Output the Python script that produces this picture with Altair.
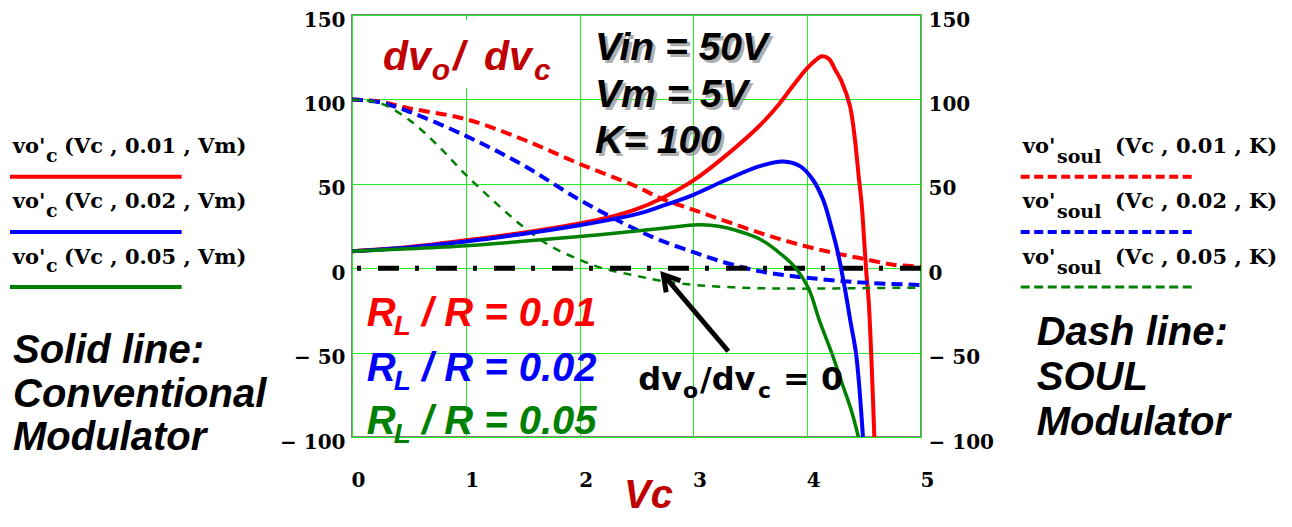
import altair as alt
import pandas as pd

# ---------------- data ----------------
# Conventional modulator, solid lines: vo'_c(Vc, RL/R, Vm)
vc_conv_001 = [0, 0.5, 1, 1.5, 2, 2.25, 2.5, 2.71, 3.0, 3.29, 3.59, 3.75, 3.88, 4.0, 4.07, 4.13, 4.19, 4.25, 4.30, 4.376, 4.42, 4.45, 4.48, 4.50, 4.52, 4.54, 4.565, 4.59]
dv_conv_001 = [10, 12.5, 16.5, 21, 26.5, 30, 35, 41, 52, 67, 85, 97, 108.5, 118.5, 123, 125.5, 124, 117, 111, 96, 76, 56, 37, 17, -3, -19, -55, -100]

vc_conv_002 = [0, 0.5, 1, 1.5, 2, 2.25, 2.5, 2.71, 3.0, 3.29, 3.59, 3.79, 3.94, 4.05, 4.14, 4.21, 4.27, 4.33, 4.38, 4.43, 4.49]
dv_conv_002 = [10, 12.3, 15.8, 20.3, 25.5, 28.5, 32, 36.5, 43.5, 52.4, 60.6, 63.2, 60.3, 52.4, 40.5, 24.8, 9, -11.7, -31.5, -51, -100]

vc_conv_005 = [0, 0.5, 1, 1.5, 2, 2.5, 2.71, 3.0, 3.15, 3.3, 3.44, 3.59, 3.73, 3.88, 4.01, 4.11, 4.22, 4.30, 4.39, 4.45]
dv_conv_005 = [10, 11.5, 13.3, 15.9, 18.8, 22, 23.5, 25.6, 25.5, 23.8, 21, 17, 10.5, 1.5, -11.7, -31.5, -51, -67, -84.7, -100]

# SOUL modulator, dashed lines: vo'_soul(Vc, RL/R, K)
vc_soul_001 = [0, 0.25, 0.5, 1, 1.5, 2, 2.5, 2.71, 3.0, 3.29, 3.59, 3.88, 4.17, 4.46, 4.76, 5.0]
dv_soul_001 = [100, 98.7, 94.8, 88.3, 76.4, 61.8, 48.4, 41.5, 34.6, 27.7, 20.8, 14.9, 10, 6, 2.1, 1]

vc_soul_002 = [0, 0.25, 0.5, 1, 1.5, 2, 2.5, 2.71, 3.0, 3.29, 3.59, 3.88, 4.17, 4.46, 5.0]
dv_soul_002 = [100, 98.2, 92.8, 78.4, 61.2, 40.5, 22.8, 16.5, 9.5, 3.1, -1.9, -4.8, -6.8, -8.4, -10]

vc_soul_005 = [0, 0.25, 0.5, 0.75, 1, 1.25, 1.5, 1.75, 2, 2.2, 2.5, 2.71, 3.06, 3.5, 3.94, 4.5, 5.0]
dv_soul_005 = [100, 97.7, 87.9, 73, 55.3, 39.5, 24.8, 12.9, 5, 0, -4.5, -7.4, -10.2, -11.7, -12.1, -11.8, -11.5]

ratios = ["0.01", "0.02", "0.05"]
x_ticks = [0, 1, 2, 3, 4, 5]
y_ticks = [-100, -50, 0, 50, 100, 150]

# ---------------- styling ----------------
RED, BLUE, GREEN = "#FF0000", "#0000FF", "#008000"
COLORS = [RED, BLUE, GREEN]
DARKRED = "#C00000"
GRID = "#22EE22"
SANS = "Liberation Sans"
SERIF = "DejaVu Serif"

XS = alt.Scale(domain=[0, 5], nice=False, zero=False)
YS = alt.Scale(domain=[-100, 150], nice=False, zero=False)

label_expr = "datum.value < 0 ? '\u2212 ' + abs(datum.value) : datum.label"

x_axis = alt.Axis(
    values=x_ticks, grid=True, gridColor=GRID, gridWidth=1, domain=False, ticks=False,
    labelFont=SERIF, labelFontWeight="bold", labelFontSize=20, labelColor="black",
    labelPadding=33, labelOffset=6, labelFlush=False,
    title="Vc", titleFont=SANS, titleFontSize=40, titleFontStyle="italic",
    titleFontWeight="bold", titleColor=DARKRED, titleX=296, titleY=70,
    titleBaseline="alphabetic", titleAlign="center",
)


def y_axis(orient, grid):
    return alt.Axis(
        values=y_ticks, orient=orient, grid=grid, gridColor=GRID, gridWidth=1,
        domain=False, ticks=False, labelFont=SERIF, labelFontWeight="bold",
        labelFontSize=20, labelColor="black", labelPadding=7, labelOffset=5,
        labelFlush=False, labelOverlap=False, labelExpr=label_expr, title=None,
    )


def curve(xs, ys, color, width, dash=None, xaxis=None, yaxis=None):
    df = pd.DataFrame({"Vc": xs, "dv": ys})
    kw = dict(color=color, strokeWidth=width, interpolate="catmull-rom", clip=True)
    if dash:
        kw["strokeDash"] = dash
    return alt.Chart(df).mark_line(**kw).encode(
        x=alt.X("Vc:Q", scale=XS, axis=xaxis),
        y=alt.Y("dv:Q", scale=YS, axis=yaxis),
    )


def data_text(rows, font, size, **kw):
    df = pd.DataFrame(rows, columns=["x", "y", "t", "c"])
    return alt.Chart(df).mark_text(
        font=font, fontSize=size, align="left", baseline="alphabetic", **kw
    ).encode(
        x=alt.X("x:Q", scale=XS, axis=None),
        y=alt.Y("y:Q", scale=YS, axis=None),
        text="t:N",
        color=alt.Color("c:N", scale=None),
    )


def pix_text(rows, font, size, **kw):
    df = pd.DataFrame(rows, columns=["px", "py", "t", "c"])
    return alt.Chart(df).mark_text(
        font=font, fontSize=size, align="left", baseline="alphabetic", **kw
    ).encode(
        x=alt.X("px:Q", scale=None),
        y=alt.Y("py:Q", scale=None),
        text="t:N",
        color=alt.Color("c:N", scale=None),
    )


# white box behind the dvo/dvc title
box = alt.Chart(pd.DataFrame({"x": [0.2], "x2": [1.8], "y": [147], "y2": [106.8]})).mark_rect(
    color="white"
).encode(
    x=alt.X("x:Q", scale=XS, axis=None), x2="x2:Q",
    y=alt.Y("y:Q", scale=YS, axis=None), y2="y2:Q",
)

solid_red = curve(vc_conv_001, dv_conv_001, RED, 4, xaxis=x_axis, yaxis=y_axis("left", True))
dash_red = curve(vc_soul_001, dv_soul_001, RED, 4, dash=[11, 6], yaxis=y_axis("right", False))
dash_blue = curve(vc_soul_002, dv_soul_002, BLUE, 4, dash=[11, 6])
dash_green = curve(vc_soul_005, dv_soul_005, GREEN, 2.5, dash=[8, 7])
solid_blue = curve(vc_conv_002, dv_conv_002, BLUE, 4)
solid_green = curve(vc_conv_005, dv_conv_005, GREEN, 3.5)

zero = alt.Chart(pd.DataFrame({"y": [0]})).mark_rule(
    color="black", strokeWidth=5, strokeDash=[21, 17, 4, 16], strokeCap="butt"
).encode(y=alt.Y("y:Q", scale=YS, axis=None))

arrow_df = pd.DataFrame({"x": [3.307], "y": [-49.2], "x2": [2.736], "y2": [-3.85]})
shaft = alt.Chart(arrow_df).mark_rule(color="black", strokeWidth=5).encode(
    x=alt.X("x:Q", scale=XS, axis=None), x2="x2:Q",
    y=alt.Y("y:Q", scale=YS, axis=None), y2="y2:Q",
)
head = alt.Chart(arrow_df).mark_point(
    shape="M -0.6 1 L 0 0 L 0.6 1", size=950, angle=320, filled=False,
    color="black", stroke="black", strokeWidth=5, opacity=1,
).encode(
    x=alt.X("x2:Q", scale=XS, axis=None),
    y=alt.Y("y2:Q", scale=YS, axis=None),
)

BI = dict(fontStyle="italic", fontWeight="bold")

# in-plot annotations (data coordinates)
title_main = data_text([[0.272, 117.5, "dv", DARKRED], [0.89, 117.5, "/", DARKRED],
                        [1.16, 117.5, "dv", DARKRED]], SANS, 41, **BI)
title_sub = data_text([[0.70, 111.5, "o", DARKRED], [1.60, 111.5, "c", DARKRED]], SANS, 30, **BI)

params = [[2.135, 123.4, "Vin = 50V", "black"], [2.135, 95.7, "Vm = 5V", "black"],
          [2.135, 68.3, "K= 100", "black"]]
params_shadow = data_text([[r[0], r[1], r[2], "#8c8c8c"] for r in params], SANS, 39,
                          dx=3, dy=3, opacity=0.7, **BI)
params_text = data_text(params, SANS, 39, **BI)

rl_base = [-34.0, -66.6, -98.5]
rl_main = data_text(
    [[0.130, rl_base[i], "R", COLORS[i]] for i in range(3)]
    + [[0.615, rl_base[i], "/ R = " + ratios[i], COLORS[i]] for i in range(3)],
    SANS, 40, **BI)
rl_sub = data_text([[0.366, rl_base[i] - 5.3, "L", COLORS[i]] for i in range(3)], SANS, 28, **BI)

zero_main = data_text([[2.516, -71.9, "dv", "black"], [3.058, -71.9, "/dv", "black"],
                       [3.787, -71.9, "= 0", "black"]], "DejaVu Sans", 32, fontWeight="bold")
zero_sub = data_text([[2.909, -76.6, "o", "black"], [3.568, -76.6, "c", "black"]],
                     "DejaVu Sans", 22, fontWeight="bold")

# legends outside the plot (pixel offsets from the plot's top-left corner)
leg_base = [138.3, 193.3, 249.0]
leg_y = [161.7, 217.0, 272.0]
left_main = pix_text(
    [[-339.3, leg_base[i], "vo'", "black"] for i in range(3)]
    + [[-288, leg_base[i], "(Vc , " + ratios[i] + " , Vm)", "black"] for i in range(3)],
    SERIF, 21, fontWeight="bold")
left_sub = pix_text([[-306, leg_base[i] + 8.4, "c", "black"] for i in range(3)],
                    SERIF, 19, fontWeight="bold")
right_main = pix_text(
    [[670.7, leg_base[i], "vo'", "black"] for i in range(3)]
    + [[763, leg_base[i], "(Vc , " + ratios[i] + " , K)", "black"] for i in range(3)],
    SERIF, 21, fontWeight="bold")
right_sub = pix_text([[705, leg_base[i] + 10, "soul", "black"] for i in range(3)],
                     SERIF, 19, fontWeight="bold")

left_lines = alt.Chart(pd.DataFrame({
    "x": [-342] * 3, "x2": [-170.3] * 3, "y": leg_y, "c": COLORS,
})).mark_rule(strokeWidth=4).encode(
    x=alt.X("x:Q", scale=None), x2="x2:Q", y=alt.Y("y:Q", scale=None),
    color=alt.Color("c:N", scale=None),
)
right_lines = alt.Chart(pd.DataFrame({
    "x": [668.7] * 3, "x2": [839.7] * 3, "y": leg_y, "c": COLORS, "w": [4, 4, 3],
})).mark_rule(strokeDash=[9, 4.5]).encode(
    x=alt.X("x:Q", scale=None), x2="x2:Q", y=alt.Y("y:Q", scale=None),
    color=alt.Color("c:N", scale=None),
    strokeWidth=alt.StrokeWidth("w:Q", scale=None),
)

notes = pix_text(
    [[-339, 348, "Solid line:", "black"], [-339, 391.7, "Conventional", "black"],
     [-339, 435, "Modulator", "black"],
     [684.7, 330, "Dash line:", "black"], [684.7, 375, "SOUL", "black"],
     [684.7, 420, "Modulator", "black"]],
    SANS, 40, **BI)

chart = alt.layer(
    solid_red, dash_red, box, dash_blue, dash_green, zero, solid_blue, solid_green,
    shaft, head, title_main, title_sub, params_shadow, params_text, rl_main, rl_sub,
    zero_main, zero_sub, left_main, left_sub, right_main, right_sub, left_lines,
    right_lines, notes,
).resolve_axis(x="independent", y="independent").properties(
    width=569, height=422,
    autosize=alt.AutoSizeParams(type="none"),
    padding={"left": 344, "top": 7, "right": 363, "bottom": 82},
    background="white",
).configure_view(stroke="#808080", strokeWidth=2)

chart.save("out.html", embed_options={"renderer": "svg", "actions": False})
